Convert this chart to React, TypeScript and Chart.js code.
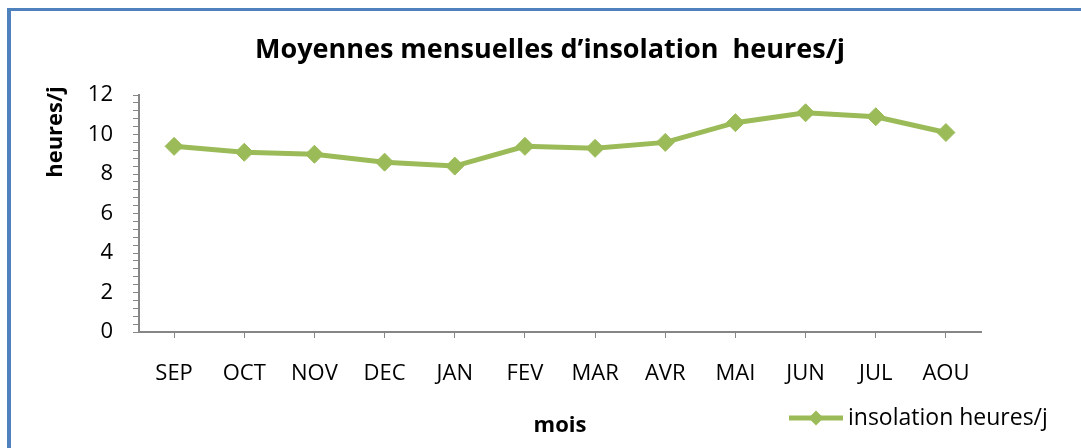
import React, { useEffect, useRef } from 'react';
import { Chart, registerables } from 'chart.js';

Chart.register(...registerables);

const CHART_TITLE = 'Moyennes mensuelles d’insolation  heures/j';
const Y_TITLE = 'heures/j';
const X_TITLE = 'mois';
const SERIES_LABEL = 'insolation heures/j';
const MONTHS = ['SEP', 'OCT', 'NOV', 'DEC', 'JAN', 'FEV', 'MAR', 'AVR', 'MAI', 'JUN', 'JUL', 'AOU'];
const INSOLATION = [9.4, 9.1, 9.0, 8.6, 8.4, 9.4, 9.3, 9.6, 10.6, 11.1, 10.9, 10.1];
const Y_MIN = 0;
const Y_MAX = 12;
const Y_MAJOR_STEP = 2;
const Y_MINOR_STEP = 0.4;

const FONT = '"Open Sans", "Liberation Sans", sans-serif';
const GREEN = '#9BBB59';
const AXIS_GREY = '#868686';

const textPlugin = {
  id: 'customText',
  afterDraw(chart: any) {
    const ctx = chart.ctx as CanvasRenderingContext2D;
    ctx.save();
    ctx.fillStyle = '#000';
    ctx.font = `bold 27px ${FONT}`;
    ctx.textAlign = 'center';
    ctx.textBaseline = 'alphabetic';
    ctx.fillText(CHART_TITLE, 550, 58);
    ctx.restore();

    ctx.save();
    ctx.fillStyle = '#000';
    ctx.font = `bold 22px ${FONT}`;
    ctx.textAlign = 'center';
    ctx.textBaseline = 'alphabetic';
    ctx.translate(62, 132);
    ctx.rotate(-Math.PI / 2);
    ctx.fillText(Y_TITLE, 0, 0);
    ctx.restore();

    // legend
    const ds = chart.data.datasets[0];
    ctx.save();
    ctx.strokeStyle = ds.borderColor;
    ctx.lineWidth = 5;
    ctx.beginPath();
    ctx.moveTo(789, 418);
    ctx.lineTo(843, 418);
    ctx.stroke();
    ctx.fillStyle = ds.pointBackgroundColor;
    const cx = 816, cy = 418, r = 7.5;
    ctx.beginPath();
    ctx.moveTo(cx, cy - r);
    ctx.lineTo(cx + r, cy);
    ctx.lineTo(cx, cy + r);
    ctx.lineTo(cx - r, cy);
    ctx.closePath();
    ctx.fill();
    ctx.fillStyle = '#000';
    ctx.font = `23px ${FONT}`;
    ctx.textAlign = 'left';
    ctx.textBaseline = 'alphabetic';
    ctx.fillText(ds.label, 848, 425);
    ctx.restore();
  },
};

export default function App() {
  const canvasRef = useRef<HTMLCanvasElement | null>(null);

  useEffect(() => {
    if (!canvasRef.current) return;
    const chart = new Chart(canvasRef.current, {
      type: 'line',
      data: {
        labels: MONTHS,
        datasets: [
          {
            label: SERIES_LABEL,
            data: INSOLATION,
            borderColor: GREEN,
            backgroundColor: GREEN,
            borderWidth: 5,
            pointStyle: 'rectRot',
            pointRadius: 9,
            pointBackgroundColor: GREEN,
            pointBorderColor: GREEN,
            pointBorderWidth: 1,
            tension: 0,
          },
        ],
      },
      options: {
        responsive: false,
        animation: false,
        layout: { padding: { top: 95, right: 100, left: 0, bottom: 0 } },
        plugins: {
          legend: { display: false },
          title: { display: false },
          tooltip: { enabled: false },
        },
        scales: {
          x: {
            type: 'category',
            offset: true,
            afterFit: (scale: any) => {
              scale.height = 116;
            },
            grid: {
              display: true,
              drawOnChartArea: false,
              drawTicks: true,
              tickLength: 6,
              color: AXIS_GREY,
              lineWidth: 1,
              offset: false,
            },
            border: { display: true, color: AXIS_GREY, width: 2 },
            ticks: {
              color: '#000',
              font: { family: FONT, size: 22 },
              padding: 23,
              maxRotation: 0,
              autoSkip: false,
            },
            title: {
              display: true,
              text: X_TITLE,
              color: '#000',
              font: { family: FONT, size: 22, weight: 'bold' },
              padding: { top: 0, bottom: 9 },
            },
          },
          y: {
            min: Y_MIN,
            max: Y_MAX,
            afterFit: (scale: any) => {
              scale.width = 139;
            },
            grid: {
              display: true,
              drawOnChartArea: false,
              drawTicks: true,
              tickLength: 6,
              color: AXIS_GREY,
              lineWidth: 1,
            },
            border: { display: true, color: AXIS_GREY, width: 2 },
            ticks: {
              stepSize: Y_MINOR_STEP,
              autoSkip: false,
              color: '#000',
              font: { family: FONT, size: 22 },
              padding: 20,
              callback: (value: any) => {
                const v = Number(value);
                const q = v / Y_MAJOR_STEP;
                return Math.abs(q - Math.round(q)) < 1e-6 ? String(Math.round(v)) : '';
              },
            },
          },
        },
      },
      plugins: [textPlugin],
    });
    return () => chart.destroy();
  }, []);

  return (
    <div
      style={{
        position: 'fixed',
        left: 0,
        top: 0,
        width: 1081,
        height: 448,
        background: '#fff',
        overflow: 'hidden',
      }}
    >
      <div
        style={{
          position: 'absolute',
          left: 7,
          top: 8,
          width: 1300,
          height: 700,
          borderLeft: '4px solid #4F81BD',
          borderTop: '3px solid #4F81BD',
        }}
      />
      <canvas
        ref={canvasRef}
        width={1081}
        height={448}
        style={{ position: 'absolute', left: 0, top: 0, width: 1081, height: 448 }}
      />
    </div>
  );
}
